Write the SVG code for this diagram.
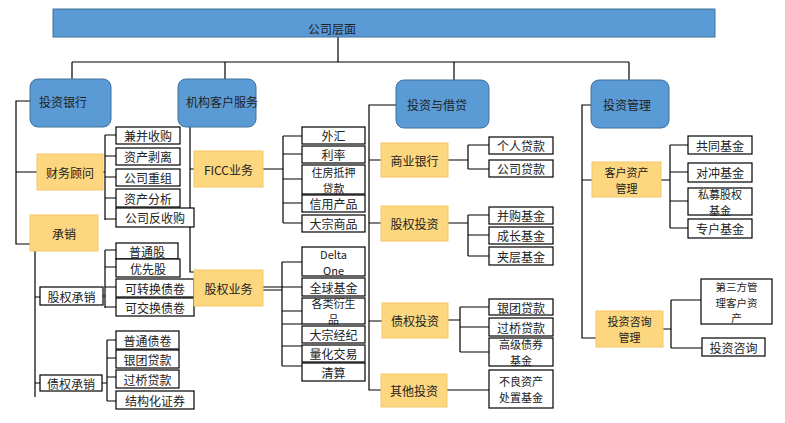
<svg xmlns="http://www.w3.org/2000/svg" width="785" height="423" viewBox="0 0 785 423">
<style>
text{font-family:"Noto Sans CJK SC","Noto Sans",sans-serif;font-size:12px;fill:#222;text-anchor:middle;dominant-baseline:central}
text.m{font-size:11px}
text.m3{font-size:10.5px}
.top{fill:#5b9bd5;stroke:#41719c;stroke-width:1}
.l1{fill:#5b9bd5;stroke:#41719c;stroke-width:1}
.l1t{text-anchor:start}
.l2{fill:#fcd77f;stroke:#f3c767;stroke-width:1}
.l3{fill:#fff;stroke:#000;stroke-width:1.2}
.c{fill:none;stroke:#000;stroke-width:1.2}
</style>
<rect width="785" height="423" fill="#fff"/>
<g id="connectors">
<path class="c" d="M338,37V62M72,62H629M72,62V79M225,62V79M454,62V80M629,62V80"/>
<path class="c" d="M30,101H16V244H30M16,172H37"/>
<path class="c" d="M103,172H105M105,135V220M105,135H116M105,156H116M105,177H116M105,198H116M105,219H116"/>
<path class="c" d="M35,251V397M35,297H40M35,383H40"/>
<path class="c" d="M103,296H105M105,250V308M105,250H116M105,267H116M105,287H116M105,307H116"/>
<path class="c" d="M102,383H107M107,340V401M107,340H116M107,358H116M107,377H116M107,401H116"/>
<path class="c" d="M190,127V272H194M190,169H194"/>
<path class="c" d="M263,169H283M283,136V223M283,136H302M283,154H302M283,179H302M283,203H302M283,223H302"/>
<path class="c" d="M263,287H282M263,290H282M282,262V366M282,262H302M282,287H302M282,311H302M282,324H302M282,346H302M282,366H302"/>
<path class="c" d="M396,105H369V390H381M369,160H381M369,223H381M369,321H382"/>
<path class="c" d="M448,160H468M468,145V169M468,145H489M468,169H489"/>
<path class="c" d="M448,223H468M468,215V256M468,215H489M468,235H489M468,256H489"/>
<path class="c" d="M448,320H460M460,307V352M460,307H489M460,327H489M460,352H489"/>
<path class="c" d="M447,390H489"/>
<path class="c" d="M591,105H582V338H596M582,180H592"/>
<path class="c" d="M661,180H670M670,145V228M670,145H688M670,172H688M670,201H688M670,228H688"/>
<path class="c" d="M663,329H671M671,300V348M671,300H701M671,348H702"/>
</g>
<g id="n-top"><rect class="top" x="53" y="9" width="662" height="28"/><text x="332" y="28">公司层面</text></g>
<g id="n-tzyh"><rect class="l1" x="30" y="79" width="81" height="48" rx="8"/><text class="l1t" x="39" y="101">投资银行</text></g>
<g id="n-jgkhfw"><rect class="l1" x="178" y="79" width="78" height="48" rx="8"/><text class="l1t" x="186" y="101">机构客户服务</text></g>
<g id="n-tzyjd"><rect class="l1" x="396" y="80" width="93" height="48" rx="8"/><text class="l1t" x="407" y="104">投资与借贷</text></g>
<g id="n-tzgl"><rect class="l1" x="591" y="80" width="78" height="48" rx="8"/><text class="l1t" x="603" y="104">投资管理</text></g>

<g id="n-cwgw"><rect class="l2" x="37" y="154" width="66" height="36"/><text x="70" y="172">财务顾问</text></g>
<g id="n-cx"><rect class="l2" x="30" y="215" width="68" height="36"/><text x="64" y="233">承销</text></g>
<g id="n-bgsg"><rect class="l3" x="116" y="127" width="64" height="17"/><text x="148" y="135.5">兼并收购</text></g>
<g id="n-zcbl"><rect class="l3" x="116" y="148" width="64" height="17"/><text x="148" y="156.5">资产剥离</text></g>
<g id="n-gscz"><rect class="l3" x="116" y="169" width="64" height="17"/><text x="148" y="177.5">公司重组</text></g>
<g id="n-zcfx"><rect class="l3" x="116" y="189" width="64" height="18"/><text x="148" y="198">资产分析</text></g>
<g id="n-gsfsg"><rect class="l3" x="116" y="208" width="78" height="19"/><text x="155" y="217.5">公司反收购</text></g>

<g id="n-gqcx"><rect class="l3" x="40" y="287" width="63" height="18"/><text x="71.5" y="296">股权承销</text></g>
<g id="n-zqcx"><rect class="l3" x="40" y="375" width="62" height="16"/><text x="71" y="383">债权承销</text></g>
<g id="n-ptg"><rect class="l3" x="116" y="243" width="62" height="16"/><text x="147" y="251">普通股</text></g>
<g id="n-yxg"><rect class="l3" x="116" y="259" width="64" height="18"/><text x="148" y="268">优先股</text></g>
<g id="n-kzhzj"><rect class="l3" x="116" y="279" width="78" height="18"/><text x="155" y="288">可转换债卷</text></g>
<g id="n-kjhzj"><rect class="l3" x="116" y="298" width="78" height="18"/><text x="155" y="307">可交换债卷</text></g>
<g id="n-ptzj"><rect class="l3" x="116" y="331" width="63" height="18"/><text x="147.5" y="340">普通债卷</text></g>
<g id="n-ytdk1"><rect class="l3" x="116" y="350" width="63" height="18"/><text x="147.5" y="359">银团贷款</text></g>
<g id="n-gqdk1"><rect class="l3" x="116" y="370" width="63" height="18"/><text x="147.5" y="379">过桥贷款</text></g>
<g id="n-jghzq"><rect class="l3" x="116" y="391" width="78" height="18"/><text x="155" y="400">结构化证券</text></g>

<g id="n-ficc"><rect class="l2" x="194" y="151" width="69" height="36"/><text x="228.5" y="169">FICC业务</text></g>
<g id="n-wh"><rect class="l3" x="302" y="127" width="63" height="17"/><text x="333.5" y="135.5">外汇</text></g>
<g id="n-ll"><rect class="l3" x="302" y="146" width="63" height="17"/><text x="333.5" y="154.5">利率</text></g>
<g id="n-zfdy"><rect class="l3" x="302" y="165" width="63" height="29"/><text class="m"><tspan x="333.5" y="171.5">住房抵押</tspan><tspan x="333.5" y="187.5">贷款</tspan></text></g>
<g id="n-xycp"><rect class="l3" x="302" y="195" width="63" height="17"/><text x="333.5" y="203.5">信用产品</text></g>
<g id="n-dzsp"><rect class="l3" x="302" y="215" width="63" height="17"/><text x="333.5" y="223.5">大宗商品</text></g>

<g id="n-gqyw"><rect class="l2" x="194" y="270" width="69" height="36"/><text x="228.5" y="288">股权业务</text></g>
<g id="n-delta"><rect class="l3" x="302" y="247" width="63" height="29"/><text class="m"><tspan x="333.5" y="254">Delta</tspan><tspan x="333.5" y="270">One</tspan></text></g>
<g id="n-qqjj"><rect class="l3" x="302" y="278" width="63" height="18"/><text x="333.5" y="287">全球基金</text></g>
<g id="n-glysp"><rect class="l3" x="302" y="298" width="63" height="26"/><text class="m"><tspan x="333.5" y="303">各类衍生</tspan><tspan x="333.5" y="319">品</tspan></text></g>
<g id="n-dzjj"><rect class="l3" x="302" y="326" width="63" height="17"/><text x="333.5" y="334.5">大宗经纪</text></g>
<g id="n-lhjy"><rect class="l3" x="302" y="345" width="63" height="17"/><text x="333.5" y="353.5">量化交易</text></g>
<g id="n-qs"><rect class="l3" x="302" y="363" width="63" height="18"/><text x="333.5" y="372">清算</text></g>

<g id="n-syyh"><rect class="l2" x="381" y="143" width="67" height="34"/><text x="414.5" y="160">商业银行</text></g>
<g id="n-gqtz"><rect class="l2" x="381" y="206" width="67" height="35"/><text x="414.5" y="223.5">股权投资</text></g>
<g id="n-zqtz"><rect class="l2" x="382" y="303" width="66" height="35"/><text x="415" y="320.5">债权投资</text></g>
<g id="n-qttz"><rect class="l2" x="381" y="374" width="66" height="33"/><text x="414" y="390.5">其他投资</text></g>
<g id="n-grdk"><rect class="l3" x="489" y="137" width="64" height="17"/><text x="521" y="145.5">个人贷款</text></g>
<g id="n-gsdk"><rect class="l3" x="489" y="160" width="64" height="17"/><text x="521" y="168.5">公司贷款</text></g>
<g id="n-bgjj"><rect class="l3" x="489" y="207" width="64" height="17"/><text x="521" y="215.5">并购基金</text></g>
<g id="n-czjj"><rect class="l3" x="489" y="227" width="64" height="17"/><text x="521" y="235.5">成长基金</text></g>
<g id="n-jcjj"><rect class="l3" x="489" y="247" width="64" height="18"/><text x="521" y="256">夹层基金</text></g>
<g id="n-ytdk2"><rect class="l3" x="489" y="299" width="64" height="16"/><text x="521" y="307">银团贷款</text></g>
<g id="n-gqdk2"><rect class="l3" x="489" y="318" width="64" height="18"/><text x="521" y="327">过桥贷款</text></g>
<g id="n-gjzq"><rect class="l3" x="489" y="338" width="64" height="28"/><text class="m"><tspan x="521" y="344">高级债券</tspan><tspan x="521" y="360">基金</tspan></text></g>
<g id="n-blzc"><rect class="l3" x="489" y="370" width="64" height="38"/><text class="m"><tspan x="521" y="381">不良资产</tspan><tspan x="521" y="397">处置基金</tspan></text></g>

<g id="n-khzcgl"><rect class="l2" x="592" y="162" width="69" height="35"/><text class="m"><tspan x="626.5" y="172">客户资产</tspan><tspan x="626.5" y="188">管理</tspan></text></g>
<g id="n-tzzxgl"><rect class="l2" x="596" y="311" width="67" height="36"/><text class="m"><tspan x="629.5" y="321">投资咨询</tspan><tspan x="629.5" y="337">管理</tspan></text></g>
<g id="n-gtjj"><rect class="l3" x="688" y="136" width="64" height="18"/><text x="720" y="145">共同基金</text></g>
<g id="n-dcjj"><rect class="l3" x="688" y="163" width="64" height="19"/><text x="720" y="172.5">对冲基金</text></g>
<g id="n-smgq"><rect class="l3" x="688" y="188" width="64" height="27"/><text class="m"><tspan x="720" y="194">私募股权</tspan><tspan x="720" y="210">基金</tspan></text></g>
<g id="n-zhjj"><rect class="l3" x="688" y="219" width="64" height="19"/><text x="720" y="228.5">专户基金</text></g>
<g id="n-dsf"><rect class="l3" x="701" y="279" width="71" height="45"/><text class="m3"><tspan x="736.5" y="286">第三方管</tspan><tspan x="736.5" y="301.5">理客户资</tspan><tspan x="736.5" y="317">产</tspan></text></g>
<g id="n-tzzx"><rect class="l3" x="702" y="338" width="63" height="18"/><text x="733.5" y="347">投资咨询</text></g>
</svg>
